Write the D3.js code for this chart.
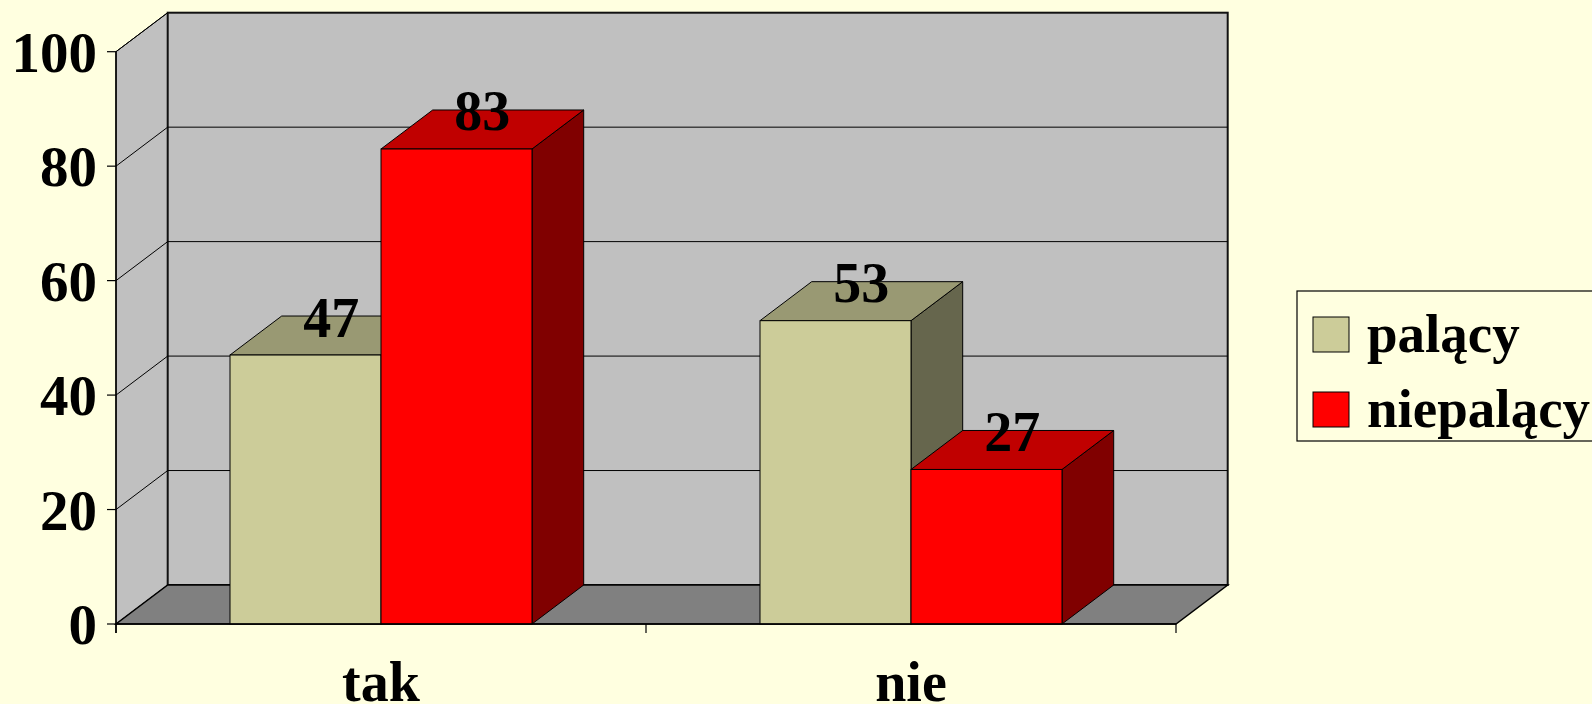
<!DOCTYPE html>
<html>
<head>
<meta charset="utf-8">
<script src="https://cdn.jsdelivr.net/npm/d3@7"></script>
<style>
  html, body { margin: 0; padding: 0; background: #ffffe0; overflow: hidden; }
  svg { display: block; }
  text { font-family: "Liberation Serif", "Times New Roman", serif; font-weight: bold; fill: #000; }
</style>
</head>
<body>
<svg id="chart" width="1592" height="704"></svg>
<script>
// data
const categories = ["tak", "nie"];
const seriesNames = ["palący", "niepalący"];
const palacy = [47, 53];
const niepalacy = [83, 27];
const yTicks = [0, 20, 40, 60, 80, 100];

const seriesColors = {
    "palący": { front: "#cccc99", top: "#999973", side: "#66664d" },
    "niepalący": { front: "#ff0000", top: "#c00000", side: "#800000" }
};

const svg = d3.select("#chart");
const width = 1592, height = 704;

svg.append("rect").attr("width", width).attr("height", height).attr("fill", "#ffffe0");

// depth of the 3d box
const dx = 51.7, dy = 39;

const x0 = d3.scaleBand().domain(categories).range([116, 1176]).paddingInner(0).paddingOuter(0);
const x1 = d3.scaleBand().domain(seriesNames).range([0, x0.bandwidth()]).paddingInner(0).paddingOuter(0.755);
const y = d3.scaleLinear().domain([0, 100]).range([624, 51.7]);

const left = x0.range()[0], right = x0.range()[1];
const y0 = y(0), yTop = y(100);

const g = svg.append("g");

// side wall
g.append("polygon")
    .attr("points", [[left, y0], [left + dx, y0 - dy], [left + dx, yTop - dy], [left, yTop]].join(" "))
    .attr("fill", "#c0c0c0").attr("stroke", "#000").attr("stroke-width", 1);

// back wall
g.append("rect")
    .attr("x", left + dx).attr("y", yTop - dy)
    .attr("width", right - left).attr("height", y0 - yTop)
    .attr("fill", "#c0c0c0").attr("stroke", "#111").attr("stroke-width", 2);

// floor
g.append("polygon")
    .attr("points", [[left, y0], [right, y0], [right + dx, y0 - dy], [left + dx, y0 - dy]].join(" "))
    .attr("fill", "#808080").attr("stroke", "#000").attr("stroke-width", 1.5);

// gridlines
const grid = yTicks.filter(d => d > 0 && d < 100);
g.selectAll("line.hgrid").data(grid).enter().append("line")
    .attr("class", "hgrid")
    .attr("x1", left + dx).attr("x2", right + dx)
    .attr("y1", d => y(d) - dy).attr("y2", d => y(d) - dy)
    .attr("stroke", "#000").attr("stroke-width", 1);
g.selectAll("line.sgrid").data(yTicks.filter(d => d > 0)).enter().append("line")
    .attr("class", "sgrid")
    .attr("x1", left).attr("x2", left + dx)
    .attr("y1", d => y(d)).attr("y2", d => y(d) - dy)
    .attr("stroke", "#000").attr("stroke-width", 1);

// bars
const bars = [];
categories.forEach((c, i) => {
    bars.push({ cat: c, s: "palący", v: palacy[i] });
    bars.push({ cat: c, s: "niepalący", v: niepalacy[i] });
});

bars.forEach(b => {
    const bx = x0(b.cat) + x1(b.s);
    const bw = x1.bandwidth();
    const by = y(b.v);
    const col = seriesColors[b.s];
    const grp = g.append("g");
    grp.append("polygon")
        .attr("points", [[bx + bw, y0], [bx + bw + dx, y0 - dy], [bx + bw + dx, by - dy], [bx + bw, by]].join(" "))
        .attr("fill", col.side).attr("stroke", "#000").attr("stroke-width", 1);
    grp.append("polygon")
        .attr("points", [[bx, by], [bx + bw, by], [bx + bw + dx, by - dy], [bx + dx, by - dy]].join(" "))
        .attr("fill", col.top).attr("stroke", "#000").attr("stroke-width", 1);
    grp.append("rect")
        .attr("x", bx).attr("y", by).attr("width", bw).attr("height", y0 - by)
        .attr("fill", col.front).attr("stroke", "#000").attr("stroke-width", 1);
});

// value labels
g.selectAll("text.val").data(bars).enter().append("text")
    .attr("class", "val")
    .attr("x", d => x0(d.cat) + x1(d.s) + x1.bandwidth() / 2 + dx / 2)
    .attr("y", d => y(d.v) - dy / 2 + 1)
    .attr("text-anchor", "middle")
    .attr("font-size", 56)
    .text(d => d.v);

// y axis
g.append("line").attr("x1", left).attr("x2", left).attr("y1", yTop).attr("y2", y0 + 9)
    .attr("stroke", "#000").attr("stroke-width", 1.5);
g.selectAll("line.ytick").data(yTicks).enter().append("line")
    .attr("class", "ytick")
    .attr("x1", left - 9).attr("x2", left)
    .attr("y1", d => y(d)).attr("y2", d => y(d))
    .attr("stroke", "#000").attr("stroke-width", 1.2);
g.selectAll("text.ylab").data(yTicks).enter().append("text")
    .attr("class", "ylab")
    .attr("x", 97).attr("y", d => y(d) + 20)
    .attr("text-anchor", "end")
    .attr("font-size", 57)
    .text(d => d);

// x axis
g.append("line").attr("x1", left).attr("x2", right).attr("y1", y0).attr("y2", y0)
    .attr("stroke", "#000").attr("stroke-width", 1.5);
const xTickPos = categories.map(c => x0(c)).concat([right]);
g.selectAll("line.xtick").data(xTickPos).enter().append("line")
    .attr("class", "xtick")
    .attr("x1", d => d).attr("x2", d => d)
    .attr("y1", y0).attr("y2", y0 + 9)
    .attr("stroke", "#000").attr("stroke-width", 1.2);
g.selectAll("text.xlab").data(categories).enter().append("text")
    .attr("class", "xlab")
    .attr("x", d => x0(d) + x0.bandwidth() / 2)
    .attr("y", 701)
    .attr("text-anchor", "middle")
    .attr("font-size", 56)
    .text(d => d);

// legend
const legend = svg.append("g");
legend.append("rect")
    .attr("x", 1297).attr("y", 291).attr("width", 320).attr("height", 150)
    .attr("fill", "#ffffe0").attr("stroke", "#000").attr("stroke-width", 1.2);
seriesNames.forEach((s, i) => {
    const ly = 317 + i * 75;
    legend.append("rect")
        .attr("x", 1313).attr("y", ly).attr("width", 36).attr("height", 35)
        .attr("fill", seriesColors[s].front).attr("stroke", "#000").attr("stroke-width", 1);
    legend.append("text")
        .attr("x", 1367).attr("y", ly + 35)
        .attr("font-size", 55)
        .text(s);
});
</script>
</body>
</html>
